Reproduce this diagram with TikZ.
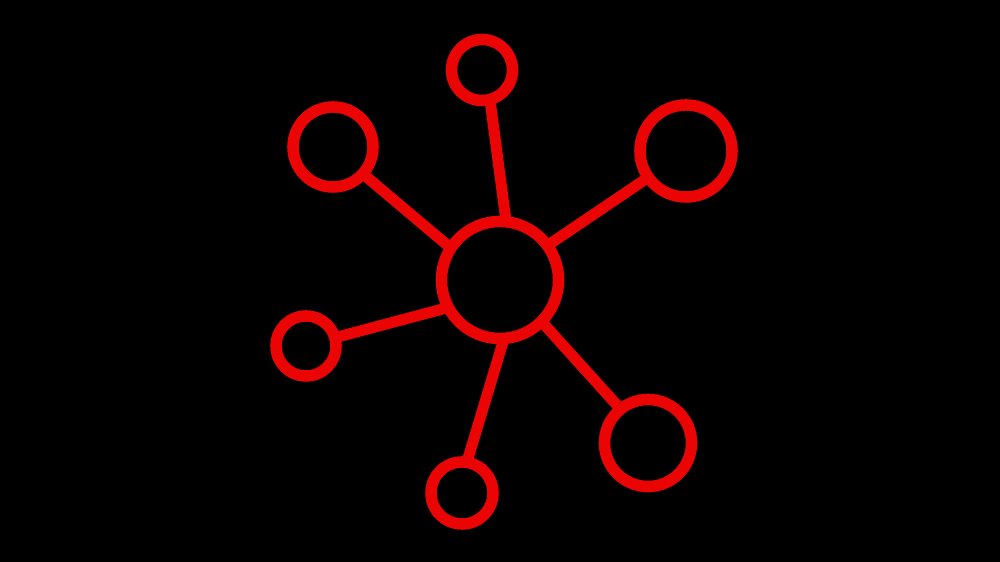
\documentclass[tikz,border=0pt]{standalone}
\begin{document}
\begin{tikzpicture}[x=0.01cm,y=-0.01cm,
  netred/.style={draw={rgb,255:red,234;green,4;blue,4}, line width=0.115cm},
  hub/.style={netred, circle, inner sep=0pt, outer sep=0pt, minimum size=#1},
  link/.style={draw={rgb,255:red,234;green,4;blue,4}, line width=0.11cm}]
\fill[black] (0,0) rectangle (1000,562);
\useasboundingbox (0,0) rectangle (1000,562);
\node[hub=1.17cm] (c) at (500,280) {};
\node[hub=0.61cm] (t) at (482,70) {};
\node[hub=0.80cm] (tl) at (333,147) {};
\node[hub=0.92cm] (tr) at (686,151) {};
\node[hub=0.60cm] (l) at (306,346) {};
\node[hub=0.62cm] (b) at (462,493) {};
\node[hub=0.87cm] (br) at (648,443) {};
\draw[link] (c.84.5) -- (t.285.6);
\draw[link] (c.147.4) -- (tl.318.5);
\draw[link] (c.36.2) -- (tr.215.7);
\draw[link] (c.208.8) -- (l.16.9);
\draw[link] (c.274.5) -- (b.81);
\draw[link] (c.315) -- (br.129.8);
\end{tikzpicture}
\end{document}
